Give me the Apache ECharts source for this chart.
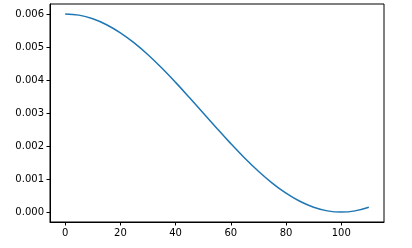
<!DOCTYPE html>
<html><head><meta charset="utf-8">
<script src="https://cdn.jsdelivr.net/npm/echarts@6/dist/echarts.min.js"></script>
<style>html,body{margin:0;padding:0;background:#fff}#c{width:412px;height:248px}</style>
</head><body><div id="c"></div>
<script>
var xValues = [0,5,10,15,20,25,30,35,40,45,50,55,60,65,70,75,80,85,90,95,100,105,110];
var yValues = [0.006,0.005963,0.005853,0.005673,0.005427,0.005121,0.004763,0.004362,0.003927,0.003469,0.003,0.002531,0.002073,0.001638,0.001237,0.000879,0.000573,0.000327,0.000147,0.000037,0.0,0.000037,0.000147];
var xTicks = [0,20,40,60,80,100];
var yTicks = [0,0.001,0.002,0.003,0.004,0.005,0.006];

var data = xValues.map(function(x,i){return [x,yValues[i]];});
var chart = echarts.init(document.getElementById('c'), null, {renderer:'canvas'});
var lab = {fontFamily:'DejaVu Sans', fontSize:10, color:'#000'};
chart.setOption({
  animation:false,
  grid:{left:50,right:28,top:4,bottom:26,show:true,borderColor:'#000',borderWidth:1,backgroundColor:'transparent'},
  xAxis:{type:'value',min:-5.5,max:115.5,
    axisLine:{show:true,onZero:false,lineStyle:{color:'#000',width:1}},
    axisTick:{show:true,customValues:xTicks,length:3.5,inside:false,lineStyle:{color:'#000'}},
    axisLabel:Object.assign({customValues:xTicks,margin:6,formatter:function(v){return String(v);}},lab),
    splitLine:{show:false}},
  yAxis:{type:'value',min:-0.0003,max:0.0063,
    axisLine:{show:true,onZero:false,lineStyle:{color:'#000',width:1}},
    axisTick:{show:true,customValues:yTicks,length:3.5,inside:false,lineStyle:{color:'#000'}},
    axisLabel:Object.assign({customValues:yTicks,margin:6,formatter:function(v){return v.toFixed(3);}},lab),
    splitLine:{show:false}},
  series:[{type:'line',data:data,smooth:0.4,showSymbol:false,
    lineStyle:{color:'#1f77b4',width:1.5}}]
});
</script></body></html>
